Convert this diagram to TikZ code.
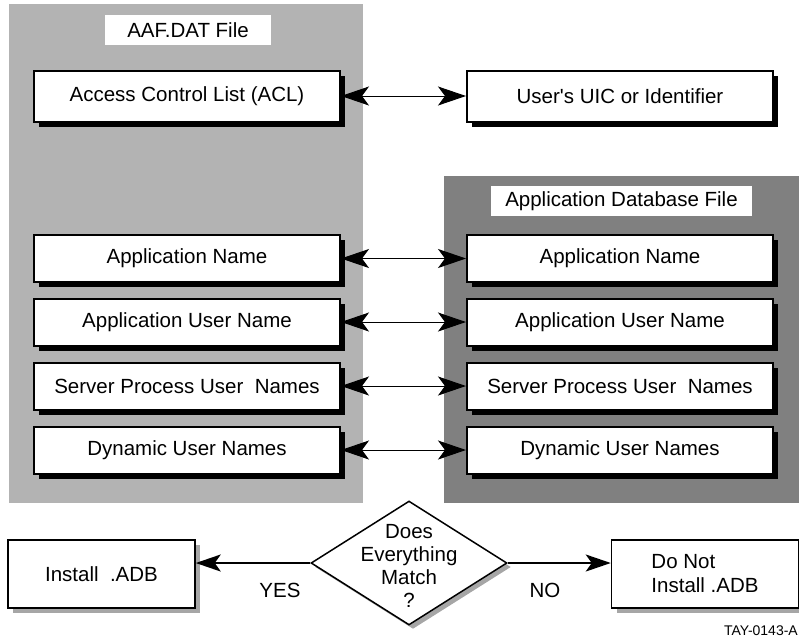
\documentclass[tikz,border=0pt]{standalone}
\usepackage{fontspec}
\setmainfont{Liberation Sans}[Ligatures=TeXOff]
\usetikzlibrary{shapes.geometric,shadows,arrows.meta}
\tikzset{
  mainfont/.style={font=\fontsize{20.5}{24}\selectfont},
  rowbox/.style={mainfont, draw, line width=2pt, fill=white, inner sep=0pt,
    minimum width=306pt, minimum height=47pt,
    drop shadow={shadow xshift=5pt, shadow yshift=-5pt, fill=black, opacity=1}},
  titlebox/.style={mainfont, fill=white, inner sep=0pt, minimum height=30pt},
  endbox/.style={mainfont, draw, line width=1.5pt, fill=white, inner sep=0pt,
    minimum width=187pt, minimum height=68pt, align=left,
    drop shadow={shadow xshift=5pt, shadow yshift=-5pt, fill=black!35, opacity=1}},
  decision/.style={diamond, draw, line width=1.5pt, fill=white, inner sep=0pt,
    minimum width=196pt, minimum height=124pt,
    drop shadow={shadow xshift=4pt, shadow yshift=-4pt, fill=black!35, opacity=1}},
  biarrow/.style={line width=1pt, {Stealth[length=28pt,width=19pt,inset=7pt]}-{Stealth[length=28pt,width=19pt,inset=7pt]}},
  outarrow/.style={line width=2pt, -{Stealth[length=25pt,width=17pt,inset=6pt]}},
  lbl/.style={mainfont, inner sep=0pt},
}
\definecolor{lightpanel}{RGB}{179,179,179}
\definecolor{darkpanel}{RGB}{128,128,128}
\begin{document}
\begin{tikzpicture}[x=1pt,y=-1pt]
\useasboundingbox (0,0) rectangle (799,641);
% panels
\fill[lightpanel] (9,4) rectangle (363,503);
\fill[darkpanel] (444,176) rectangle (799,503);
\node[titlebox, minimum width=166pt] (t1) at (188,30) {AAF.DAT File};
\node[titlebox, minimum width=261pt] (t2) at (621.5,201) {Application Database File};
% left column
\node[rowbox, minimum height=51pt] (l1) at (187,96) {Access Control List (ACL)};
\node[rowbox] (l2) at (187,258.5) {Application Name};
\node[rowbox] (l3) at (187,322) {Application User Name};
\node[rowbox] (l4) at (187,386) {Server Process User\ \ Names};
\node[rowbox] (l5) at (187,450) {Dynamic User Names};
% right column
\node[rowbox, minimum height=51pt] (r1) at (620,96) {User's UIC or Identifier};
\node[rowbox] (r2) at (620,258.5) {Application Name};
\node[rowbox] (r3) at (620,322) {Application User Name};
\node[rowbox] (r4) at (620,386) {Server Process User\ \ Names};
\node[rowbox] (r5) at (620,450) {Dynamic User Names};
\foreach \i in {1,...,5} {\draw[biarrow] (l\i.east) -- (r\i.west);}
% decision
\node[decision] (d) at (409,563) {};
\node[lbl, align=center, font=\fontsize{20.5}{23}\selectfont] (dt) at (409,566) {Does\\Everything\\Match\\?};
\node[endbox] (yes) at (101.5,574) {Install\ \ .ADB};
\node[endbox] (no) at (705,574) {Do Not\\Install .ADB};
\draw[outarrow] (d.west) -- (d.west -| yes.east);
\draw[outarrow] (d.east) -- (d.east -| no.west);
\node[lbl] (yl) at (280,590) {YES};
\node[lbl] (nl) at (545,590) {NO};
\node[inner sep=0pt, font=\fontsize{14}{16}\selectfont, anchor=east] (tag) at (798,631) {TAY-0143-A};
\end{tikzpicture}
\end{document}
